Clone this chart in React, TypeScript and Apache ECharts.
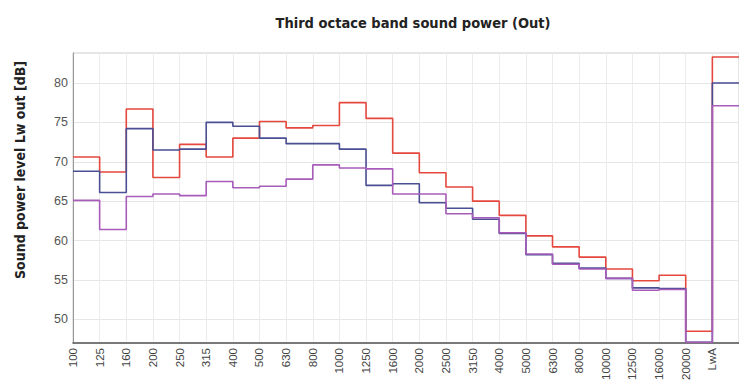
import React, { useEffect, useRef } from "react";
import * as echarts from "echarts";

const bands = ["100","125","160","200","250","315","400","500","630","800","1000","1250","1600","2000","2500","3150","4000","5000","6300","8000","10000","12500","16000","20000","LwA"];
const redValues = [70.6, 68.7, 76.7, 68.0, 72.2, 70.6, 73.0, 75.1, 74.3, 74.6, 77.5, 75.5, 71.1, 68.6, 66.8, 65.0, 63.2, 60.6, 59.2, 57.9, 56.4, 54.9, 55.6, 48.5, 83.3];
const blueValues = [68.8, 66.1, 74.2, 71.5, 71.6, 75.0, 74.5, 73.0, 72.3, 72.3, 71.6, 67.0, 67.2, 64.8, 64.1, 62.7, 60.9, 58.2, 57.1, 56.5, 55.2, 54.0, 53.9, 47.1, 80.0];
const purpleValues = [65.1, 61.4, 65.6, 65.9, 65.7, 67.5, 66.7, 66.9, 67.8, 69.6, 69.2, 69.1, 65.9, 65.9, 63.4, 62.9, 61.0, 58.3, 57.0, 56.4, 55.2, 53.7, 53.8, 47.1, 77.1];

const titleText = "Third octace band sound power (Out)";
const yName = "Sound power level Lw out [dB]";

// step-end lines need one closing point to draw the last band to the edge
const ext = (v: number[]) => v.concat([v[v.length - 1]]);

export default function App() {
  const ref = useRef<HTMLDivElement>(null);
  useEffect(() => {
    if (!ref.current) return;
    const chart = echarts.init(ref.current, null, { renderer: "svg" });
    const narrow = "'Liberation Sans Narrow', 'DejaVu Sans Condensed', sans-serif";
    chart.setOption({
      animation: false,
      backgroundColor: "#ffffff",
      title: {
        text: titleText,
        left: 408,
        top: 10,
        textAlign: "center",
        textStyle: { fontFamily: narrow, fontWeight: "bold", fontSize: 14.5, color: "#222" },
      },
      graphic: [
        {
          type: "text",
          x: 20,
          y: 170,
          rotation: Math.PI / 2,
          style: {
            text: yName,
            fontFamily: narrow,
            fontWeight: "bold",
            fontSize: 14,
            fill: "#222",
            textAlign: "center",
            textVerticalAlign: "middle",
          },
        },
      ],
      grid: {
        left: 73,
        top: 53,
        width: 670,
        height: 292,
        show: true,
        borderColor: "#cccccc",
        borderWidth: 1,
        backgroundColor: "#ffffff",
      },
      xAxis: {
        type: "category",
        boundaryGap: false,
        data: bands.concat([""]),
        axisLine: { lineStyle: { color: "#555", width: 1.5 } },
        axisTick: { show: false },
        axisLabel: {
          interval: 0,
          rotate: 90,
          margin: 5,
          fontSize: 11.5,
          color: "#444",
          fontFamily: "'Liberation Sans', Arial, sans-serif",
        },
        splitLine: { show: true, interval: 0, lineStyle: { color: "#ececec", width: 1 } },
      },
      yAxis: {
        type: "value",
        min: 47,
        max: 83.8,
        splitNumber: 7,
        axisLine: { show: true, lineStyle: { color: "#999", width: 1 } },
        axisTick: { show: false },
        axisLabel: {
          showMinLabel: false,
          showMaxLabel: false,
          margin: 5,
          fontSize: 12.5,
          color: "#555",
          fontFamily: "'Liberation Sans', Arial, sans-serif",
        },
        splitLine: { show: true, lineStyle: { color: "#e6e6e6", width: 1 } },
      },
      series: [
        {
          type: "line",
          step: "end",
          symbol: "none",
          data: ext(redValues),
          lineStyle: { color: "#e5483d", width: 1.6 },
        },
        {
          type: "line",
          step: "end",
          symbol: "none",
          data: ext(blueValues),
          lineStyle: { color: "#4a4e93", width: 1.6 },
        },
        {
          type: "line",
          step: "end",
          symbol: "none",
          data: ext(purpleValues),
          lineStyle: { color: "#a85cba", width: 1.6 },
        },
      ],
    });
    return () => chart.dispose();
  }, []);
  return (
    <div
      ref={ref}
      style={{ position: "fixed", left: 0, top: 0, width: 739, height: 383 }}
    />
  );
}
